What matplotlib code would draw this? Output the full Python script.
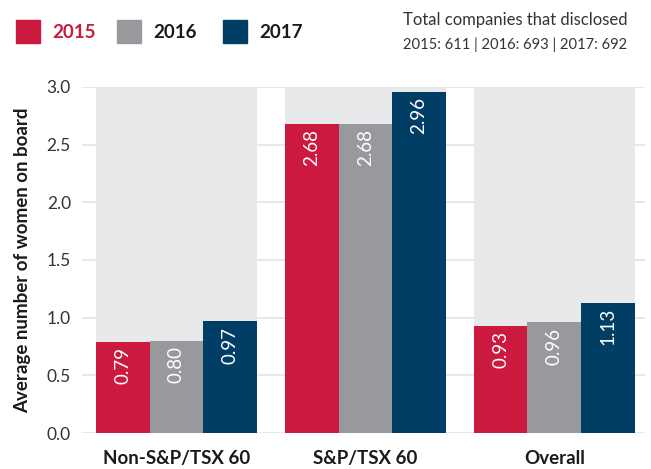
import numpy as np
import matplotlib
matplotlib.use('Agg')
import matplotlib.pyplot as plt
import matplotlib.patches as mpatches

categories = ['Non-S&P/TSX 60', 'S&P/TSX 60', 'Overall']
years = ['2015', '2016', '2017']
values_2015 = [0.79, 2.68, 0.93]
values_2016 = [0.80, 2.68, 0.96]
values_2017 = [0.97, 2.96, 1.13]
yticks = [0.0, 0.5, 1.0, 1.5, 2.0, 2.5, 3.0]

colors = ['#CC1940', '#97999C', '#003E66']
bgColor = '#E8E9EB'

plt.rcParams['font.family'] = ['Lato', 'DejaVu Sans']

fig = plt.figure(figsize=(6.51, 4.69), dpi=100)
ax = fig.add_axes([82/651, 1-433/469, 563/651, 346/469])

x = np.arange(len(categories))
barWidth = 0.284
series = [values_2015, values_2016, values_2017]

# gray column behind each group
ax.bar(x, [3.0]*len(x), width=barWidth*3, color=bgColor, zorder=1)

for i, vals in enumerate(series):
    pos = x + (i-1)*barWidth
    ax.bar(pos, vals, width=barWidth, color=colors[i], zorder=2)
    for p, v in zip(pos, vals):
        ax.annotate('%.2f' % v, (p, v), xytext=(0, -4), textcoords='offset points',
                    rotation=90, ha='center', va='top', color='white', fontsize=13.5, zorder=3)

for t in yticks:
    ax.axhline(t, color='#E4E4E4', linewidth=1.2, zorder=0)

ax.set_xlim(-0.5, 2.48)
ax.set_ylim(0, 3.0)
ax.set_yticks(yticks)
ax.set_yticklabels(['%.1f' % t for t in yticks], fontsize=12.5, color='#333333')
ax.set_xticks(x)
ax.set_xticklabels(categories, fontsize=13.5, fontweight='bold', color='#1a1a1a')
ax.tick_params(axis='both', length=0)
ax.tick_params(axis='y', pad=8)
ax.tick_params(axis='x', pad=12)
for s in ax.spines.values():
    s.set_visible(False)
ax.set_ylabel('Average number of women on board', fontsize=13.5, fontweight='bold',
              color='#1a1a1a', labelpad=11)

# legend
legX = [16, 117, 223]
for i, yr in enumerate(years):
    fig.patches.append(mpatches.Rectangle((legX[i]/651, 1-43/469), 24/651, 23/469,
                                          transform=fig.transFigure, color=colors[i]))
    fig.text((legX[i]+36)/651, 1-32/469, yr, fontsize=13.5, fontweight='bold',
             color=colors[0] if i == 0 else '#1a1a1a', va='center')

fig.text(403/651, 1-20/469, 'Total companies that disclosed', fontsize=12,
         color='#333333', va='center')
fig.text(403/651, 1-45/469, '2015: 611 | 2016: 693 | 2017: 692', fontsize=10.6,
         color='#333333', va='center')

fig.savefig('out.png', dpi=100)
